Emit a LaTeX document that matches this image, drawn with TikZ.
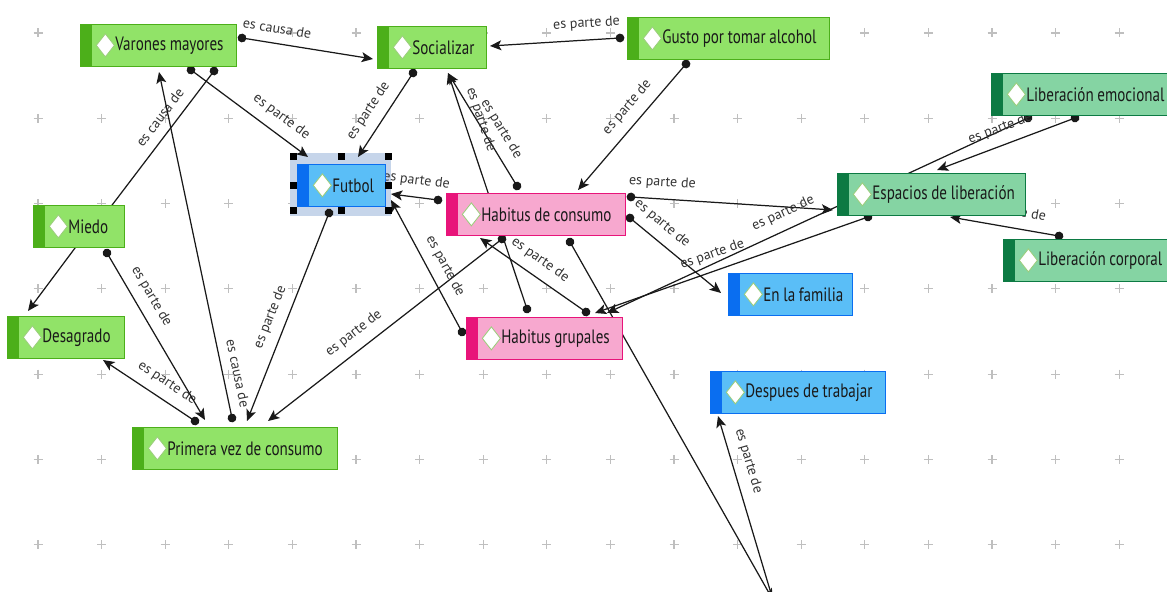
\documentclass[tikz,border=0pt]{standalone}
\usepackage{fontspec}
\newfontfamily\nodefont{PT Sans}[FakeStretch=0.78]
\newfontfamily\labelfont{PT Sans}
\newcommand{\fuentenodo}{\nodefont\fontsize{16.5}{18}\selectfont\fontdimen2\font=0.19em\relax}
\newcommand{\fuenteetiq}{\labelfont\fontsize{12}{13}\selectfont}
\usetikzlibrary{arrows.meta,calc,backgrounds}
\definecolor{verdeF}{HTML}{91E368}
\definecolor{verdeB}{HTML}{4CAF1A}
\definecolor{azulF}{HTML}{5ABEF7}
\definecolor{azulB}{HTML}{0A6EF0}
\definecolor{rosaF}{HTML}{F7A8CF}
\definecolor{rosaB}{HTML}{E8147A}
\definecolor{tealF}{HTML}{85D4A3}
\definecolor{tealB}{HTML}{0C7A43}
\definecolor{rombo}{HTML}{9ACD7A}
\definecolor{selec}{HTML}{C6D5EA}
\begin{document}
\begin{tikzpicture}[x=0.03cm, y=-0.03cm,
	concepto/.style={draw=#1B, fill=#1F, line width=0.6pt, anchor=north west,
		minimum height=1.26cm, inner xsep=0pt, inner ysep=0pt,
		font=\fuentenodo, text=black!90,
		execute at begin node={\spaceskip=0.19em\relax\noindent\hspace*{1.05cm}},
		path picture={
			\fill[#1B] (path picture bounding box.north west) rectangle ([xshift=0.36cm]path picture bounding box.south west);
			\draw[rombo, fill=white, line width=0.7pt] ([xshift=0.75cm]path picture bounding box.west) +(-0.27cm,0cm) -- +(0cm,0.345cm) -- +(0.27cm,0cm) -- +(0cm,-0.345cm) -- cycle;
		}},
	enlace/.style={draw=black!90, line width=1.05pt, shorten <=-0.13cm,
		{Circle[length=0.26cm]}-{Stealth[length=0.34cm, width=0.3cm, inset=0.08cm]}},
	etiq/.style={sloped, above=7pt, inner sep=1pt, text=black!80, font=\fuenteetiq},
	cruz/.style={draw=gray!50, line width=0.9pt}]
	\useasboundingbox (0,0) rectangle (1167,592);
	\clip (0,0) rectangle (1167,592);

	\node[concepto=verde, text width=4.68cm] (vm) at (80,24) {Varones mayores};
	\node[concepto=verde, text width=3.27cm] (soc) at (377,26) {Socializar};
	\node[concepto=verde, text width=6.06cm] (gusto) at (627,17) {Gusto por tomar alcohol};
	\node[concepto=verde, text width=2.73cm] (miedo) at (33,205) {Miedo};
	\node[concepto=verde, text width=3.51cm] (desag) at (7,316) {Desagrado};
	\node[concepto=verde, text width=6.15cm] (primera) at (132,427) {Primera vez de consumo};
	\node[concepto=azul, text width=2.64cm] (futbol) at (297,164) {Futbol};
	\node[concepto=azul, text width=3.72cm] (fam) at (728,273) {En la familia};
	\node[concepto=azul, text width=5.25cm] (desp) at (710,371) {Despues de trabajar};
	\node[concepto=rosa, text width=5.37cm] (hc) at (446,193) {Habitus de consumo};
	\node[concepto=rosa, text width=4.68cm] (hg) at (466,317) {Habitus grupales};
	\node[concepto=teal, text width=5.64cm] (esp) at (837,173) {Espacios de liberación};
	\node[concepto=teal, text width=5.4cm] (lemo) at (991,73) {Liberación emocional};
	\node[concepto=teal, text width=5.1cm] (lcorp) at (1003,239) {Liberación corporal};

	\foreach \p/\dx/\dy in {north west/-4/-7, north/0/-7, north east/3/-7, west/-4/0, east/3/0, south west/-4/4, south/0/4, south east/3/4}
		\fill ([shift={(\dx,\dy)}]futbol.\p) +(-3.5,-3.5) rectangle +(3.5,3.5);

	\begin{scope}[on background layer]
		\foreach \i in {0,...,17}
			\foreach \j in {0,...,6}
				\draw[cruz] ({38+63.6*\i},{33+85.3*\j}) +(-4.5,0) -- +(4.5,0) +(0,-4.5) -- +(0,4.5);
		\fill[selec] ([shift={(-7,-11)}]futbol.north west) rectangle ([shift={(5,9)}]futbol.south east);
		\coordinate (oculto) at (773,600);

		\draw[enlace] ($(vm.north west)+(162,14)$) -- node[etiq, pos=.25] {es causa de} ($(soc.north west)+(-4,33)$);
		\draw[enlace] ($(vm.north west)+(111,46)$) -- node[etiq, pos=.69] {es parte de} ($(futbol.north west)+(11,-7)$);
		\draw[enlace] ($(vm.north west)+(134,47)$) -- node[etiq, pos=.38] {es causa de} ($(miedo.north west)+(70,12)$);
		\draw[enlace] ($(primera.north west)+(100,-9)$) -- node[etiq, pos=.12] {es causa de} ($(vm.north west)+(79,48)$);
		\draw[enlace] ($(miedo.north west)+(48,35)$) -- ($(desag.north west)+(21,-5)$);
		\draw[enlace] ($(primera.north west)+(63,-6)$) -- node[etiq, pos=.4] {es parte de} ($(desag.north west)+(96,44)$);
		\draw[enlace] ($(miedo.north west)+(74,48)$) -- node[etiq, pos=.31] {es parte de} ($(primera.north west)+(73,-7)$);
		\draw[enlace] ($(futbol.north west)+(32,49)$) -- node[etiq, pos=.53] {es parte de} ($(primera.north west)+(115,-6)$);
		\draw[enlace] ($(hc.north west)+(56,46)$) -- node[etiq, pos=.59] {es parte de} ($(primera.north west)+(136,-6)$);
		\draw[enlace] ($(soc.north west)+(36,47)$) -- node[etiq, pos=.56] {es parte de} ($(futbol.north west)+(61,-7)$);
		\draw[enlace] ($(gusto.north west)+(-7,21)$) -- node[etiq, pos=.25] {es parte de} ($(soc.north west)+(113,20)$);
		\draw[enlace] ($(gusto.north west)+(59,47)$) -- node[etiq, pos=.43] {es parte de} ($(hc.north west)+(132,-3)$);
		\draw[enlace] ($(hc.north west)+(71,-7)$) -- node[etiq, pos=.43] {es parte de} ($(soc.north west)+(71,47)$);
		\draw[enlace] ($(hg.north west)+(61,-8)$) -- node[etiq, pos=.78] {es parte de} ($(soc.north west)+(71,47)$);
		\draw[enlace] ($(hc.north west)+(-8,7)$) -- node[etiq, pos=.5] {es parte de} ($(futbol.north west)+(94,30)$);
		\draw[enlace] ($(hg.north west)+(-4,15)$) -- node[etiq, pos=.44] {es parte de} ($(futbol.north west)+(94,36)$);
		\draw[enlace] ($(hg.north west)+(120,-5)$) -- node[etiq, pos=.52] {es parte de} ($(hc.north west)+(34,45)$);
		\draw[enlace] ($(hc.north west)+(124,49)$) -- (oculto);
		\draw[enlace] ($(hc.north west)+(185,4)$) -- node[etiq, pos=.15] {es parte de} ($(esp.north west)+(-4,37)$);
		\draw[enlace] ($(hc.north west)+(184,25)$) -- node[etiq, pos=.24] {es parte de} ($(fam.north west)+(-7,20)$);
		\draw[enlace] ($(esp.north west)+(31,44)$) -- node[etiq, pos=.55] {es parte de} ($(hg.north west)+(129,-4)$);
		\draw[enlace] ($(lemo.north west)+(37,45)$) -- node[etiq, pos=.565] {es parte de} ($(hg.north west)+(141,-4)$);
		\draw[enlace] ($(lemo.north west)+(84,45)$) -- node[etiq, pos=.5] {es parte de} ($(esp.north west)+(100,-3)$);
		\draw[enlace] ($(lcorp.north west)+(56,-3)$) -- node[etiq, pos=.45] {es parte de} ($(esp.north west)+(113,44)$);
		\draw[enlace] (oculto) -- node[etiq, pos=.73] {es parte de} ($(desp.north west)+(8,45)$);
	\end{scope}
\end{tikzpicture}
\end{document}
